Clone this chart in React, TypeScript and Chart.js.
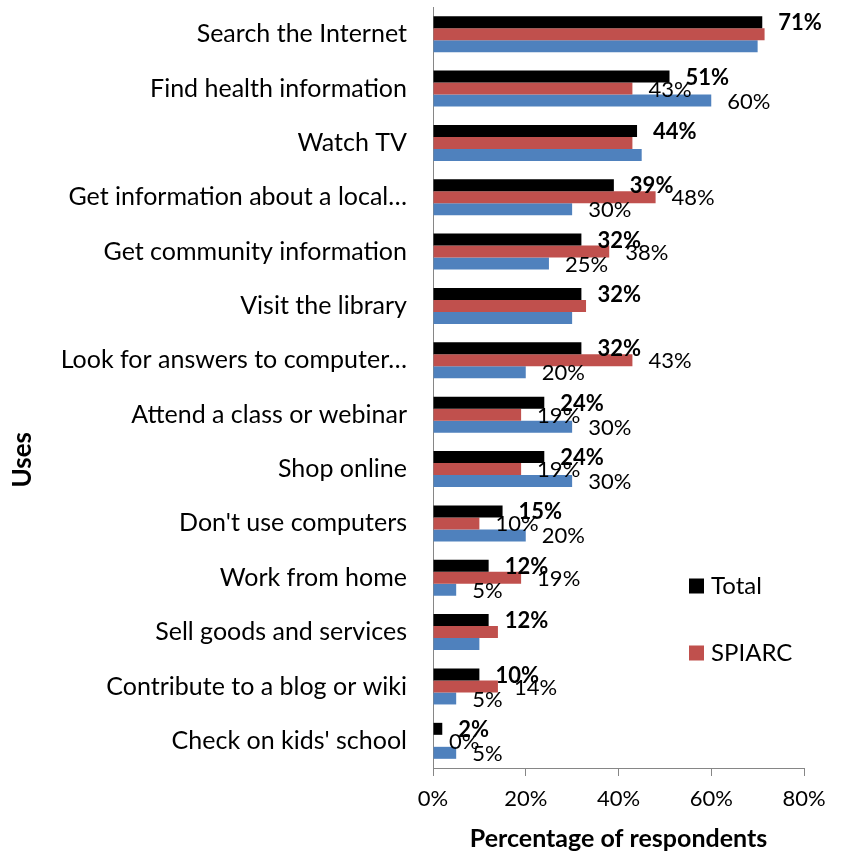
import React, { useEffect, useRef } from "react";
import { Chart, registerables } from "chart.js";

Chart.register(...registerables);

const categories = [
  "Search the Internet",
  "Find health information",
  "Watch TV",
  "Get information about a local…",
  "Get community information",
  "Visit the library",
  "Look for answers to computer…",
  "Attend a class or webinar",
  "Shop online",
  "Don't use computers",
  "Work from home",
  "Sell goods and services",
  "Contribute to a blog or wiki",
  "Check on kids' school",
];
const totalValues = [71, 51, 44, 39, 32, 32, 32, 24, 24, 15, 12, 12, 10, 2];
const spiarcValues = [71.5, 43, 43, 48, 38, 33, 43, 19, 19, 10, 19, 14, 14, 0];
const otherValues = [70, 60, 45, 30, 25, 30, 20, 30, 30, 20, 5, 10, 5, 5];
const totalLabels = ["71%", "51%", "44%", "39%", "32%", "32%", "32%", "24%", "24%", "15%", "12%", "12%", "10%", "2%"];
const spiarcLabels = [null, "43%", null, "48%", "38%", null, "43%", "19%", "19%", "10%", "19%", null, "14%", "0%"];
const otherLabels = [null, "60%", null, "30%", "25%", null, "20%", "30%", "30%", "20%", "5%", null, "5%", "5%"];
const xTickValues = [0, 20, 40, 60, 80];
const legendItems = ["Total", "SPIARC"];

const FONT = "Lato";
const BLACK = "#000000";
const RED = "#C0504D";
const BLUE = "#4F81BD";
const AXIS = "#868686";

const barLabelPlugin = {
  id: "barLabels",
  afterDatasetsDraw(chart: any) {
    const ctx = chart.ctx;
    ctx.save();
    ctx.textAlign = "left";
    ctx.textBaseline = "middle";
    ctx.fillStyle = "#000";
    chart.data.datasets.forEach((ds: any, di: number) => {
      const meta = chart.getDatasetMeta(di);
      ctx.font = `${ds.labelBold ? "bold " : ""}22px ${FONT}`;
      meta.data.forEach((el: any, i: number) => {
        const t = ds.valueLabels[i];
        if (!t) return;
        ctx.fillText(t, el.x + 16, el.y + 1);
      });
    });
    ctx.restore();
  },
};

const extrasPlugin = {
  id: "extras",
  afterDraw(chart: any) {
    const ctx = chart.ctx;
    const area = chart.chartArea;
    ctx.save();
    // y-axis title
    ctx.translate(23, area.top + (area.bottom - area.top) * 0.595);
    ctx.rotate(-Math.PI / 2);
    ctx.font = `bold 26px ${FONT}`;
    ctx.fillStyle = "#000";
    ctx.textAlign = "center";
    ctx.textBaseline = "middle";
    ctx.fillText("Uses", 0, 0);
    ctx.restore();

    // legend
    ctx.save();
    const colors = [BLACK, RED];
    ctx.font = `24px ${FONT}`;
    ctx.textAlign = "left";
    ctx.textBaseline = "middle";
    legendItems.forEach((name, i) => {
      const cy = area.top + 579 + i * 67;
      ctx.fillStyle = colors[i];
      ctx.fillRect(689, cy - 7.5, 15, 15);
      ctx.fillStyle = "#000";
      ctx.fillText(name, 711, cy);
    });
    ctx.restore();
  },
};

export default function App() {
  const ref = useRef<HTMLCanvasElement | null>(null);
  useEffect(() => {
    document.body.style.margin = "0";
    const canvas = ref.current;
    if (!canvas) return;
    const chart = new Chart(canvas, {
      type: "bar",
      data: {
        labels: categories,
        datasets: [
          { label: "Total", data: totalValues, backgroundColor: BLACK, valueLabels: totalLabels, labelBold: true } as any,
          { label: "SPIARC", data: spiarcValues, backgroundColor: RED, valueLabels: spiarcLabels, labelBold: false } as any,
          { label: "Other", data: otherValues, backgroundColor: BLUE, valueLabels: otherLabels, labelBold: false } as any,
        ],
      },
      options: {
        indexAxis: "y",
        animation: false,
        responsive: false,
        layout: { padding: { top: 7, right: 40, left: 0, bottom: 0 } },
        datasets: { bar: { categoryPercentage: 0.662, barPercentage: 1 } },
        plugins: { legend: { display: false }, tooltip: { enabled: false } },
        scales: {
          x: {
            min: 0,
            max: 80,
            afterBuildTicks: (scale: any) => {
              scale.ticks = xTickValues.map((v) => ({ value: v }));
            },
            afterFit: (scale: any) => {
              scale.height = 86;
            },
            grid: { drawOnChartArea: false, drawTicks: true, tickLength: 8, color: AXIS },
            border: { display: true, color: AXIS, width: 1 },
            ticks: {
              color: "#000",
              font: { family: FONT, size: 22 },
              padding: 10,
              callback: (v: any) => `${v}%`,
            },
            title: {
              display: true,
              text: "Percentage of respondents",
              color: "#000",
              font: { family: FONT, size: 25, weight: "bold" },
              padding: { top: 0, bottom: 0 },
            },
          },
          y: {
            afterFit: (scale: any) => {
              scale.width = 433;
              scale.paddingTop = 0;
              scale.paddingBottom = 0;
            },
            grid: { display: false, drawTicks: false },
            border: { display: true, color: AXIS, width: 1 },
            ticks: {
              color: "#000",
              font: { family: FONT, size: 25 },
              padding: 26,
              autoSkip: false,
            },
          },
        },
      },
      plugins: [barLabelPlugin, extrasPlugin],
    } as any);
    return () => chart.destroy();
  }, []);
  return <canvas ref={ref} width={844} height={854} style={{ display: "block", width: 844, height: 854 }} />;
}
